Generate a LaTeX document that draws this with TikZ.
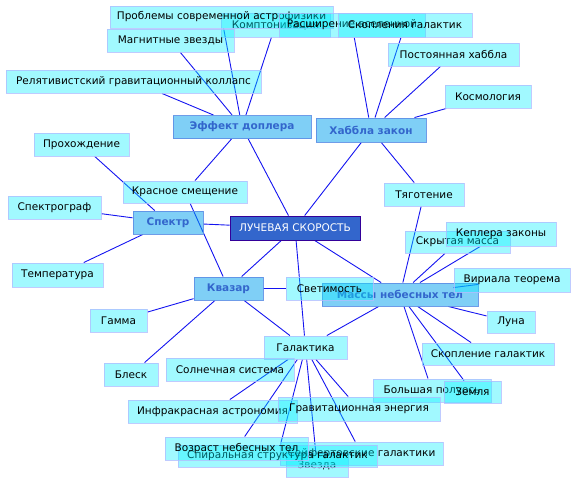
\documentclass[tikz,border=0pt]{standalone}
\usepackage{fontspec}
\newfontfamily\dv{DejaVu Sans}
\pgfdeclarelayer{bg}
\pgfsetlayers{bg,main}
\definecolor{lineblue}{RGB}{20,20,240}
\definecolor{l2fill}{RGB}{0,240,255}
\definecolor{l2border}{RGB}{175,190,255}
\definecolor{l1fill}{RGB}{0,160,238}
\definecolor{l1border}{RGB}{95,145,230}
\definecolor{l1text}{RGB}{51,102,204}
\definecolor{mainfill}{RGB}{51,102,204}
\definecolor{mainborder}{RGB}{51,0,153}
\tikzset{
  basebox/.style={rectangle, inner sep=0pt, font=\dv\fontsize{10.5}{12}\selectfont},
  l2box/.style={basebox, fill=l2fill, fill opacity=0.37, text opacity=1, draw=l2border, draw opacity=0.8, line width=0.9pt},
  l1box/.style={basebox, fill=l1fill, fill opacity=0.5, text opacity=1, draw=l1border, draw opacity=0.9, line width=0.9pt, text=l1text, font=\dv\bfseries\fontsize{10.5}{12}\selectfont},
  mainbox/.style={basebox, fill=mainfill, draw=mainborder, line width=0.9pt, text=white},
  conn/.style={draw=lineblue, line width=0.9pt}
}
\begin{document}
\begin{tikzpicture}[x=1pt,y=-1pt]
\useasboundingbox (0,0) rectangle (576,483);
% main
\node[mainbox, minimum width=130pt, minimum height=24pt] (main) at (295,228) {ЛУЧЕВАЯ СКОРОСТЬ};
% level 1
\node[l1box, minimum width=138pt, minimum height=23pt] (dop) at (242,127) {Эффект доплера};
\node[l1box, minimum width=110pt, minimum height=24pt] (hub) at (371,130) {Хаббла закон};
\node[l1box, minimum width=70pt, minimum height=23pt] (spec) at (168,222.5) {Спектр};
\node[l1box, minimum width=69pt, minimum height=23pt] (kvaz) at (228.5,288.5) {Квазар};
\node[l1box, minimum width=156pt, minimum height=23pt] (mass) at (400,294.5) {Массы небесных тел};
% level 2 top
\node[l2box, minimum width=109pt, minimum height=24pt] (kompt) at (275.5,25) {Комптонизация};
\node[l2box, minimum width=223pt, minimum height=22pt] (probl) at (221.5,17) {Проблемы современной астрофизики};
\node[l2box, minimum width=146pt, minimum height=24pt] (rassh) at (352,25) {Расширение вселенной};
\node[l2box, minimum width=134pt, minimum height=24pt] (skop1) at (405,25) {Скопления галактик};
\node[l2box, minimum width=127pt, minimum height=23pt] (magn) at (170.5,40.5) {Магнитные звезды};
\node[l2box, minimum width=255pt, minimum height=23pt] (relat) at (133.5,81.5) {Релятивистский гравитационный коллапс};
\node[l2box, minimum width=131pt, minimum height=23pt] (post) at (453.5,54.5) {Постоянная хаббла};
\node[l2box, minimum width=86pt, minimum height=23pt] (kosm) at (488,96.5) {Космология};
% left
\node[l2box, minimum width=95pt, minimum height=23pt] (proh) at (81.5,144.5) {Прохождение};
\node[l2box, minimum width=124pt, minimum height=22pt] (kras) at (185,192) {Красное смещение};
\node[l2box, minimum width=93pt, minimum height=23pt] (spgr) at (54.5,207.5) {Спектрограф};
\node[l2box, minimum width=91pt, minimum height=24pt] (temp) at (57.5,275) {Температура};
\node[l2box, minimum width=57pt, minimum height=23pt] (gamma) at (118.5,320.5) {Гамма};
\node[l2box, minimum width=54pt, minimum height=23pt] (blesk) at (131,374.5) {Блеск};
% right
\node[l2box, minimum width=80pt, minimum height=23pt] (tyag) at (424,194.5) {Тяготение};
\node[l2box, minimum width=105pt, minimum height=22pt] (skryt) at (457.5,242) {Скрытая масса};
\node[l2box, minimum width=110pt, minimum height=24pt] (kepl) at (501,234) {Кеплера законы};
\node[l2box, minimum width=116pt, minimum height=24pt] (viri) at (512,280) {Вириала теорема};
\node[l2box, minimum width=87pt, minimum height=23pt] (svet) at (329.5,288.5) {Светимость};
\node[l2box, minimum width=48pt, minimum height=22pt] (luna) at (511,322) {Луна};
\node[l2box, minimum width=132pt, minimum height=22pt] (skop2) at (488,354) {Скопление галактик};
\node[l2box, minimum width=118pt, minimum height=23pt] (bolsh) at (432,390.5) {Большая полуось};
\node[l2box, minimum width=57pt, minimum height=22pt] (zemlya) at (472.5,392) {Земля};
% bottom
\node[l2box, minimum width=83pt, minimum height=23pt] (gal) at (305.5,347.5) {Галактика};
\node[l2box, minimum width=128pt, minimum height=23pt] (soln) at (230,369.5) {Солнечная система};
\node[l2box, minimum width=169pt, minimum height=23pt] (infra) at (212.5,411.5) {Инфракрасная астрономия};
\node[l2box, minimum width=162pt, minimum height=24pt] (grav) at (359,409) {Гравитационная энергия};
\node[l2box, minimum width=62pt, minimum height=24pt] (zvezda) at (317,465) {Звезда};
\node[l2box, minimum width=163pt, minimum height=23pt] (seyf) at (361.5,453.5) {Сейфертовские галактики};
\node[l2box, minimum width=199pt, minimum height=22pt] (spir) at (277.5,456) {Спиральная структура галактик};
\node[l2box, minimum width=143pt, minimum height=23pt] (vozr) at (236.5,448.5) {Возраст небесных тел};
\begin{pgfonlayer}{bg}
\draw[conn] (main) -- (dop);
\draw[conn] (main) -- (hub);
\draw[conn] (main) -- (spec);
\draw[conn] (main) -- (kvaz);
\draw[conn] (main) -- (gal);
\draw[conn] (main) -- (mass);
\draw[conn] (dop) -- (probl);
\draw[conn] (dop) -- (kompt);
\draw[conn] (dop) -- (magn);
\draw[conn] (dop) -- (relat);
\draw[conn] (dop) -- (kras);
\draw[conn] (hub) -- (rassh);
\draw[conn] (hub) -- (skop1);
\draw[conn] (hub) -- (post);
\draw[conn] (hub) -- (kosm);
\draw[conn] (hub) -- (tyag);
\draw[conn] (spec) -- (proh);
\draw[conn] (spec) -- (spgr);
\draw[conn] (spec) -- (temp);
\draw[conn] (kras) -- (kvaz);
\draw[conn] (kvaz) -- (svet);
\draw[conn] (kvaz) -- (gamma);
\draw[conn] (kvaz) -- (blesk);
\draw[conn] (kvaz) -- (gal);
\draw[conn] (tyag) -- (mass);
\draw[conn] (mass) -- (skryt);
\draw[conn] (mass) -- (kepl);
\draw[conn] (mass) -- (viri);
\draw[conn] (mass) -- (luna);
\draw[conn] (mass) -- (skop2);
\draw[conn] (mass) -- (zemlya);
\draw[conn] (mass) -- (bolsh);
\draw[conn] (mass) -- (gal);
\draw[conn] (gal) -- (infra);
\draw[conn] (gal) -- (vozr);
\draw[conn] (gal) -- (spir);
\draw[conn] (gal) -- (zvezda);
\draw[conn] (gal) -- (seyf);
\draw[conn] (gal) -- (grav);
\end{pgfonlayer}
\end{tikzpicture}
\end{document}
